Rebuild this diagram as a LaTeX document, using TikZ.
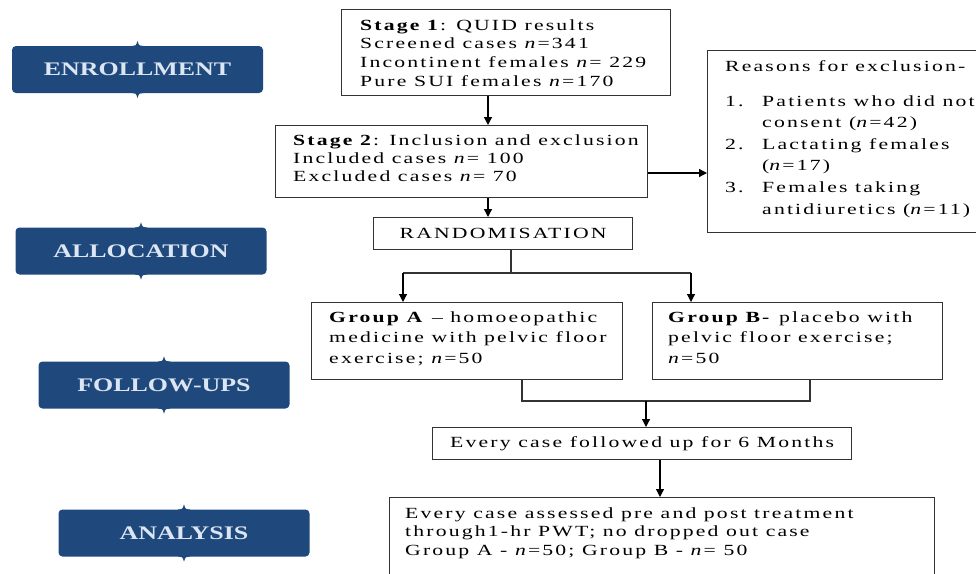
\documentclass[tikz,border=0pt]{standalone}
\usepackage{fontspec}
\setmainfont{Liberation Serif}[FakeStretch=1.4, LetterSpace=14]
\newfontfamily\labfont{Liberation Serif}[FakeStretch=1.35]
\usetikzlibrary{arrows.meta,calc}
\definecolor{bannerblue}{HTML}{1F497D}
\definecolor{bannertext}{HTML}{DCE6F2}
\definecolor{linegray}{HTML}{333333}
\begin{document}
\begin{tikzpicture}[x=1pt,y=-1pt,
  box/.style={draw=linegray, line width=1.2pt, anchor=north west, inner sep=0pt},
  txt/.style={anchor=base west, inner sep=0pt, align=left},
  fsize/.style={font=\fontsize{15.5}{#1}\selectfont},
  arr/.style={draw=black, line width=1.2pt, -{Triangle[width=8pt,length=8pt]}},
  ln/.style={draw=linegray, line width=1.2pt},
  banner/.style={fill=bannerblue, rounded corners=4pt, minimum width=251pt, minimum height=47pt, inner sep=0pt, text=bannertext, font=\labfont\bfseries\fontsize{19.2}{22}\selectfont},
]
\useasboundingbox (0,0) rectangle (976,573);
\clip (0,0) rectangle (976,573);

% side banners
\node[banner] (enr) at (137.5,69.5) {ENROLLMENT};
\node[banner] (alloc) at (141,251) {ALLOCATION};
\node[banner] (fol) at (164,385) {FOLLOW-UPS};
\node[banner] (ana) at (184,533) {ANALYSIS};
\foreach \b in {enr,alloc,fol,ana}{
  \fill[bannerblue] ([xshift=-6pt,yshift=-1pt]\b.north) -- ([xshift=-6pt]\b.north) .. controls ([xshift=-1.5pt]\b.north) .. ([yshift=5pt]\b.north) .. controls ([xshift=1.5pt]\b.north) .. ([xshift=6pt]\b.north) -- ([xshift=6pt,yshift=-1pt]\b.north) -- cycle;
  \fill[bannerblue] ([xshift=-6pt,yshift=1pt]\b.south) -- ([xshift=-6pt]\b.south) .. controls ([xshift=-1.5pt]\b.south) .. ([yshift=-5pt]\b.south) .. controls ([xshift=1.5pt]\b.south) .. ([xshift=6pt]\b.south) -- ([xshift=6pt,yshift=1pt]\b.south) -- cycle;
}

% boxes
\node[box, minimum width=329pt, minimum height=86pt] (s1) at (341,9) {};
\node[box, minimum width=372pt, minimum height=72pt] (s2) at (275,125) {};
\node[box, minimum width=300pt, minimum height=182pt] (reasons) at (707,50) {};
\node[box, minimum width=259pt, minimum height=32pt, fsize=18.7] (rand) at (373,217) {RANDOMISATION};
\node[box, minimum width=311pt, minimum height=77pt] (grpA) at (311,302) {};
\node[box, minimum width=290pt, minimum height=77pt] (grpB) at (652,302) {};
\node[box, minimum width=419pt, minimum height=32pt, fsize=18.7] (follow) at (432,427) {Every case followed up for 6 Months};
\node[box, minimum width=545pt, minimum height=110pt] (analysis) at (389,497) {};

% texts (anchor = baseline of last line)
\node[txt, fsize=18.7] (t1) at (360,86.1) {\textbf{Stage 1}: QUID results\\Screened cases \textit{n}=341\\Incontinent females \textit{n}= 229\\Pure SUI females \textit{n}=170};
\node[txt, fsize=18.2] (t2) at (293,181.4) {\textbf{Stage 2}: Inclusion and exclusion\\Included cases \textit{n}= 100\\Excluded cases \textit{n}= 70};
\node[txt, fsize=21.6] (t3) at (725,214) {Reasons for exclusion-\\[13.4pt]
\makebox[37pt][l]{1.}Patients who did not\\\makebox[37pt][l]{}consent (\textit{n}=42)\\
\makebox[37pt][l]{2.}Lactating females\\\makebox[37pt][l]{}(\textit{n}=17)\\
\makebox[37pt][l]{3.}Females taking\\\makebox[37pt][l]{}antidiuretics (\textit{n}=11)};
\node[txt, fsize=20.6] (t4) at (329,363.2) {\textbf{Group A} – homoeopathic\\medicine with pelvic floor\\exercise; \textit{n}=50};
\node[txt, fsize=20.6] (t5) at (668,363.2) {\textbf{Group B-} placebo with\\pelvic floor exercise;\\\textit{n}=50};
\node[txt, fsize=18.7] (t6) at (405,555.4) {Every case assessed pre and post treatment\\through1-hr PWT; no dropped out case\\Group A - \textit{n}=50; Group B - \textit{n}= 50};

% helper coordinates
\coordinate (x488) at (488,0);
\coordinate (y173) at (0,173);
\coordinate (x511) at (511,0);
\coordinate (y273) at (0,273);
\coordinate (x403) at (403,0);
\coordinate (x691) at (691,0);
\coordinate (x522) at (522,0);
\coordinate (x810) at (810,0);
\coordinate (y401) at (0,401);
\coordinate (x646) at (646,0);
\coordinate (x660) at (660,0);

% connectors
\draw[arr] (s1.south -| x488) -- (s2.north -| x488);
\draw[arr] (s2.south -| x488) -- (rand.north -| x488);
\draw[arr] (s2.east |- y173) -- (reasons.west |- y173);
\draw[ln] (rand.south -| x511) -- (x511 |- y273);
\draw[ln] (x403 |- y273) -- (x691 |- y273);
\draw[arr] (x403 |- y273) -- (grpA.north -| x403);
\draw[arr] (x691 |- y273) -- (grpB.north -| x691);
\draw[ln] (grpA.south -| x522) |- (x810 |- y401) -- (grpB.south -| x810);
\draw[arr] (x646 |- y401) -- (follow.north -| x646);
\draw[arr] (follow.south -| x660) -- (analysis.north -| x660);
\end{tikzpicture}
\end{document}
